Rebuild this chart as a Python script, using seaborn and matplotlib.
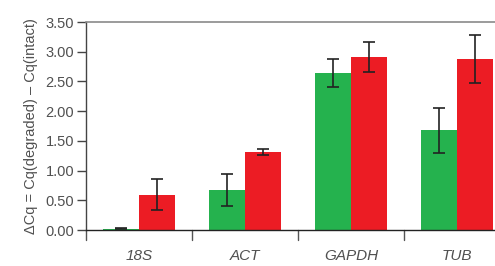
import matplotlib
matplotlib.use("Agg")
import matplotlib.pyplot as plt
import seaborn as sns
import pandas as pd
import numpy as np

categories = ["18S", "ACT", "GAPDH", "TUB"]
series = ["intact-like", "degraded-like"]
green_vals = [0.02, 0.67, 2.64, 1.68]
green_err = [0.01, 0.265, 0.235, 0.38]
red_vals = [0.59, 1.31, 2.91, 2.88]
red_err = [0.26, 0.055, 0.25, 0.40]
yticks = [0.0, 0.5, 1.0, 1.5, 2.0, 2.5, 3.0, 3.5]
ylabel = "ΔCq = Cq(degraded) – Cq(intact)"

colors = ["#25B24E", "#EC1C24"]

sns.set_style("white")
plt.rcParams["font.family"] = ["Liberation Sans", "DejaVu Sans"]

df = pd.DataFrame({
    "gene": categories * 2,
    "series": [series[0]] * 4 + [series[1]] * 4,
    "value": green_vals + red_vals,
    "err": green_err + red_err,
})

fig = plt.figure(figsize=(4.95, 2.66), dpi=100)
ax = fig.add_axes([86 / 495, 1 - 230 / 266, 1 - 86 / 495, (230 - 22) / 266])

sns.barplot(data=df, x="gene", y="value", hue="series", palette=colors,
            width=0.68, gap=0, errorbar=None, legend=False, ax=ax,
            saturation=1, linewidth=0)

# error bars positioned at bar centers
patches = [p for p in ax.patches]
for p, (_, row) in zip(patches, df.iterrows()):
    xc = p.get_x() + p.get_width() / 2
    ax.errorbar(xc, p.get_height(), yerr=row["err"], fmt="none",
                ecolor="#222222", elinewidth=1.2, capsize=4.5, capthick=1.2)

txt = "#505050"
ax.set_ylim(0, 3.5)
ax.set_xlim(-0.5, 3.36)
ax.set_yticks(yticks)
ax.set_yticklabels([f"{v:.2f}" for v in yticks], fontsize=10.5, color=txt)
ax.set_xticks([0, 1, 2, 3])
ax.set_xticklabels(categories, fontsize=11, style="italic", color=txt)
ax.tick_params(axis="x", length=0, pad=14)
ax.tick_params(axis="y", length=6.5, width=1, color="#444444", direction="out", pad=2, left=True)

# boundary ticks on x-axis
for b in [-0.5, 0.5, 1.5, 2.5]:
    ax.plot([b, b], [0, -0.17], color="#555555", lw=1, clip_on=False)

ax.set_xlabel("")
ax.set_ylabel(ylabel, fontsize=10.5, color=txt, labelpad=5)

ax.spines["right"].set_visible(False)
ax.spines["top"].set_color("#8a8a8a")
ax.spines["top"].set_linewidth(1.2)
ax.spines["left"].set_color("#444444")
ax.spines["left"].set_linewidth(1)
ax.spines["bottom"].set_color("#222222")
ax.spines["bottom"].set_linewidth(1)
ax.spines["bottom"].set_zorder(5)

fig.savefig("out.png", dpi=100)
